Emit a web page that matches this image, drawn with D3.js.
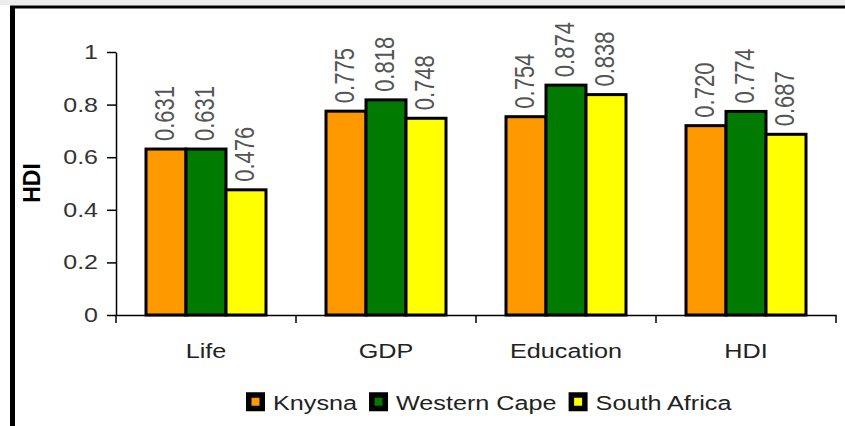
<!DOCTYPE html>
<html>
<head>
    <meta charset="utf-8" />
    <title>HDI comparison</title>
    <script src="https://d3js.org/d3.v7.min.js"></script>
    <style>
        html, body { margin: 0; padding: 0; background: #fff; }
        svg text { font-family: 'Liberation Sans', Arial, sans-serif; }
    </style>
</head>
<body>
    <div class="canvas"></div>
    <script>
        // data
        var categories = ["Life", "GDP", "Education", "HDI"];
        var series = ["Knysna", "Western Cape", "South Africa"];
        var knysna = [0.631, 0.775, 0.754, 0.720];
        var westernCape = [0.631, 0.818, 0.874, 0.774];
        var southAfrica = [0.476, 0.748, 0.838, 0.687];
        var yTicks = [0, 0.2, 0.4, 0.6, 0.8, 1];
        var colors = ["#ff9900", "#007a00", "#ffff00"];

        var values = [knysna, westernCape, southAfrica];
        var width = 845, height = 426;

        var svg = d3.select(".canvas")
            .append("svg")
            .attr("width", width)
            .attr("height", height);

        // frame
        svg.append("rect").attr("x", 0).attr("y", 0).attr("width", width).attr("height", 5).attr("fill", "#ececec");
        svg.append("line").attr("x1", 10).attr("y1", 7).attr("x2", width).attr("y2", 7)
            .attr("stroke", "#000").attr("stroke-width", 3);
        svg.append("line").attr("x1", 12.5).attr("y1", 6).attr("x2", 12.5).attr("y2", height)
            .attr("stroke", "#000").attr("stroke-width", 5);

        var x = d3.scaleBand().domain(categories).range([116, 836]).paddingInner(1/3).paddingOuter(1/6);
        var xs = d3.scaleBand().domain(series).range([0, x.bandwidth()]);
        var y = d3.scaleLinear().domain([0, 1]).range([315, 52]);

        // bars
        var groups = svg.selectAll("g.cat")
            .data(categories)
            .enter().append("g")
            .attr("class", "cat")
            .attr("transform", function(d) { return "translate(" + x(d) + ",0)"; });

        groups.selectAll("rect")
            .data(function(d, i) {
                return series.map(function(s, j) { return { s: s, v: values[j][i], c: colors[j] }; });
            })
            .enter().append("rect")
            .attr("x", function(d) { return xs(d.s); })
            .attr("y", function(d) { return y(d.v); })
            .attr("width", xs.bandwidth())
            .attr("height", function(d) { return y(0) - y(d.v); })
            .attr("fill", function(d) { return d.c; })
            .attr("stroke", "#000")
            .attr("stroke-width", 3);

        groups.selectAll("text.val")
            .data(function(d, i) {
                return series.map(function(s, j) { return { s: s, v: values[j][i] }; });
            })
            .enter().append("text")
            .attr("class", "val")
            .attr("transform", function(d) {
                return "translate(" + (xs(d.s) + xs.bandwidth() / 2 - 2) + "," + (y(d.v) - 8) + ") scale(1.23,1) rotate(-90)";
            })
            .attr("dy", "0.36em")
            .attr("font-size", 22)
            .attr("fill", "#555")
            .text(function(d) { return d3.format(".3f")(d.v); });

        // axes
        var yAxis = svg.append("g")
            .attr("transform", "translate(116,0)")
            .call(d3.axisLeft(y).tickValues(yTicks).tickSize(9).tickSizeOuter(0).tickFormat(d3.format("")));
        yAxis.select(".domain").attr("stroke-width", 1.5);
        yAxis.selectAll(".tick line").attr("stroke-width", 1.5);
        yAxis.selectAll(".tick text")
            .attr("x", -18 / 1.25)
            .attr("transform", "scale(1.25,1)")
            .attr("font-size", 20)
            .attr("fill", "#333");

        var xAxis = svg.append("g")
            .attr("transform", "translate(0,315)")
            .call(d3.axisBottom(x).tickSize(0).tickFormat(""));
        xAxis.select(".domain").attr("stroke-width", 1.5);
        var tickPos = categories.map(function(c) { return x(c) - x.step() * x.paddingOuter(); });
        tickPos.push(x(categories[3]) + x.bandwidth() + x.step() * x.paddingOuter());
        xAxis.selectAll("line.sep")
            .data(tickPos)
            .enter().append("line")
            .attr("class", "sep")
            .attr("x1", function(d) { return d; }).attr("x2", function(d) { return d; })
            .attr("y1", 0).attr("y2", 8)
            .attr("stroke", "#000").attr("stroke-width", 1.5);

        svg.selectAll("text.cat")
            .data(categories)
            .enter().append("text")
            .attr("class", "cat")
            .attr("transform", function(d) { return "translate(" + (x(d) + x.bandwidth() / 2) + ",358) scale(1.2,1)"; })
            .attr("text-anchor", "middle")
            .attr("font-size", 21)
            .attr("fill", "#222")
            .text(function(d) { return d; });

        svg.append("text")
            .attr("transform", "translate(32,183) rotate(-90)")
            .attr("text-anchor", "middle")
            .attr("dy", "0.36em")
            .attr("font-size", 23)
            .attr("font-weight", "bold")
            .text("HDI");

        // legend
        var legend = svg.append("g").attr("transform", "translate(246,402)");
        var lx = 0;
        series.forEach(function(s, i) {
            var g = legend.append("g").attr("transform", "translate(" + lx + ",0)");
            g.append("rect")
                .attr("x", 2.75).attr("y", -7).attr("width", 13.5).attr("height", 13.5)
                .attr("fill", colors[i]).attr("stroke", "#000").attr("stroke-width", 5.5);
            var t = g.append("text")
                .attr("transform", "translate(27,0) scale(1.2,1)")
                .attr("dy", "0.36em")
                .attr("font-size", 21)
                .attr("fill", "#222")
                .text(s);
            lx += 27 + t.node().getComputedTextLength() * 1.2 + 12;
        });
    </script>
</body>
</html>
